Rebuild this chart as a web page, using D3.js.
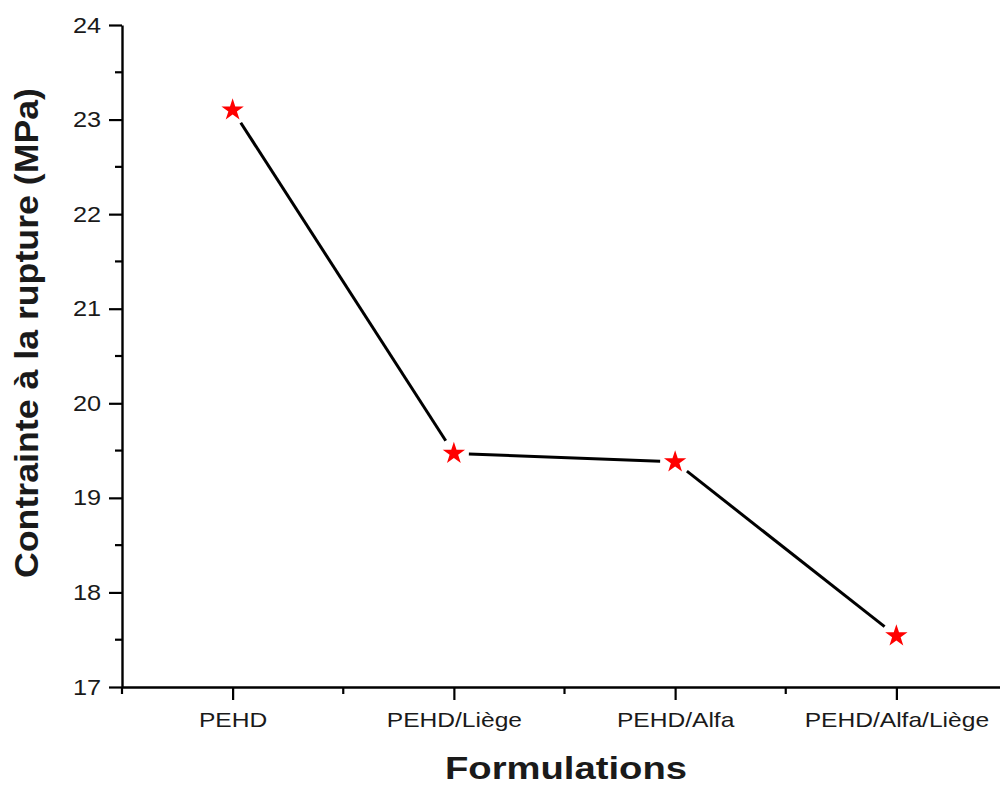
<!DOCTYPE html>
<html>
<head>
<meta charset="utf-8">
<script src="https://cdn.jsdelivr.net/npm/d3@7"></script>
<style>
  html, body { margin: 0; padding: 0; background: #fff; }
  svg { display: block; font-family: "Liberation Sans", Arial, sans-serif; }
</style>
</head>
<body>
<svg id="chart" width="1000" height="787"></svg>
<script>
// Tensile stress at break for each formulation
const formulations = ["PEHD", "PEHD/Liège", "PEHD/Alfa", "PEHD/Alfa/Liège"];
const stress = [23.1, 19.47, 19.38, 17.54];
const yTicks = [17, 18, 19, 20, 21, 22, 23, 24];

const svg = d3.select("#chart");
const plotLeft = 122, plotTop = 25, plotBottom = 687, plotRight = 1007;
const textColor = "#1a1a1a";

const x = d3.scalePoint().domain(formulations).range([plotLeft, plotRight]).padding(0.5);
const y = d3.scaleLinear().domain([17, 24]).range([plotBottom, plotTop]);

const g = svg.append("g");

// Y axis with minor ticks at half units
const yMinor = d3.range(17.5, 24, 1);
g.selectAll(".yminor").data(yMinor).join("line")
  .attr("x1", plotLeft - 7).attr("x2", plotLeft)
  .attr("y1", d => y(d)).attr("y2", d => y(d))
  .attr("stroke", "#000").attr("stroke-width", 2.2);

const yAxis = g.append("g")
  .attr("transform", `translate(${plotLeft},0)`)
  .call(d3.axisLeft(y).tickValues(yTicks).tickFormat(d3.format("d"))
    .tickSize(13).tickPadding(8).tickSizeOuter(0));
yAxis.select(".domain").attr("stroke-width", 2.4);
yAxis.selectAll(".tick line").attr("stroke-width", 2.2);
yAxis.selectAll(".tick text")
  .attr("font-size", 22).attr("fill", textColor)
  .attr("font-family", "Liberation Sans, Arial, sans-serif")
  .attr("transform", "translate(-21,0) scale(1.15,1) translate(21,0)");

// X axis: minor ticks sit halfway between categories
const step = x.step();
const xMinor = d3.range(0, formulations.length + 1).map(i => plotLeft + i * step);
g.selectAll(".xminor").data(xMinor).join("line")
  .attr("x1", d => d).attr("x2", d => d)
  .attr("y1", plotBottom).attr("y2", plotBottom + 7)
  .attr("stroke", "#000").attr("stroke-width", 2.2);

const xAxis = g.append("g")
  .attr("transform", `translate(0,${plotBottom})`)
  .call(d3.axisBottom(x).tickSize(13).tickPadding(12).tickSizeOuter(0));
xAxis.select(".domain").attr("stroke-width", 2.4);
xAxis.selectAll(".tick line").attr("stroke-width", 2.2);
xAxis.selectAll(".tick text")
  .attr("font-size", 20.5).attr("fill", textColor)
  .attr("font-family", "Liberation Sans, Arial, sans-serif")
  .attr("transform", "scale(1.2,1)");

// Connecting line, with a small gap around each marker
const pts = formulations.map((f, i) => [x(f), y(stress[i])]);
const gap = 15;
for (let i = 0; i < pts.length - 1; i++) {
  const [x0, y0] = pts[i], [x1, y1] = pts[i + 1];
  const len = Math.hypot(x1 - x0, y1 - y0);
  const ux = (x1 - x0) / len, uy = (y1 - y0) / len;
  g.append("line")
    .attr("x1", x0 + ux * gap).attr("y1", y0 + uy * gap)
    .attr("x2", x1 - ux * gap).attr("y2", y1 - uy * gap)
    .attr("stroke", "#000").attr("stroke-width", 3);
}

// Star markers
const star = d3.symbol().type(d3.symbolStar).size(155);
g.selectAll(".marker").data(pts).join("path")
  .attr("d", star)
  .attr("transform", d => `translate(${d[0]},${d[1]})`)
  .attr("fill", "#ff0000");

// Axis titles
svg.append("text")
  .attr("x", 566).attr("y", 779)
  .attr("text-anchor", "middle")
  .attr("font-size", 32).attr("font-weight", "bold").attr("fill", textColor)
  .attr("textLength", 242).attr("lengthAdjust", "spacingAndGlyphs")
  .text("Formulations");

svg.append("text")
  .attr("transform", "translate(38,333) rotate(-90)")
  .attr("text-anchor", "middle")
  .attr("font-size", 34).attr("font-weight", "bold").attr("fill", textColor)
  .attr("textLength", 490).attr("lengthAdjust", "spacingAndGlyphs")
  .text("Contrainte à la rupture (MPa)");
</script>
</body>
</html>
